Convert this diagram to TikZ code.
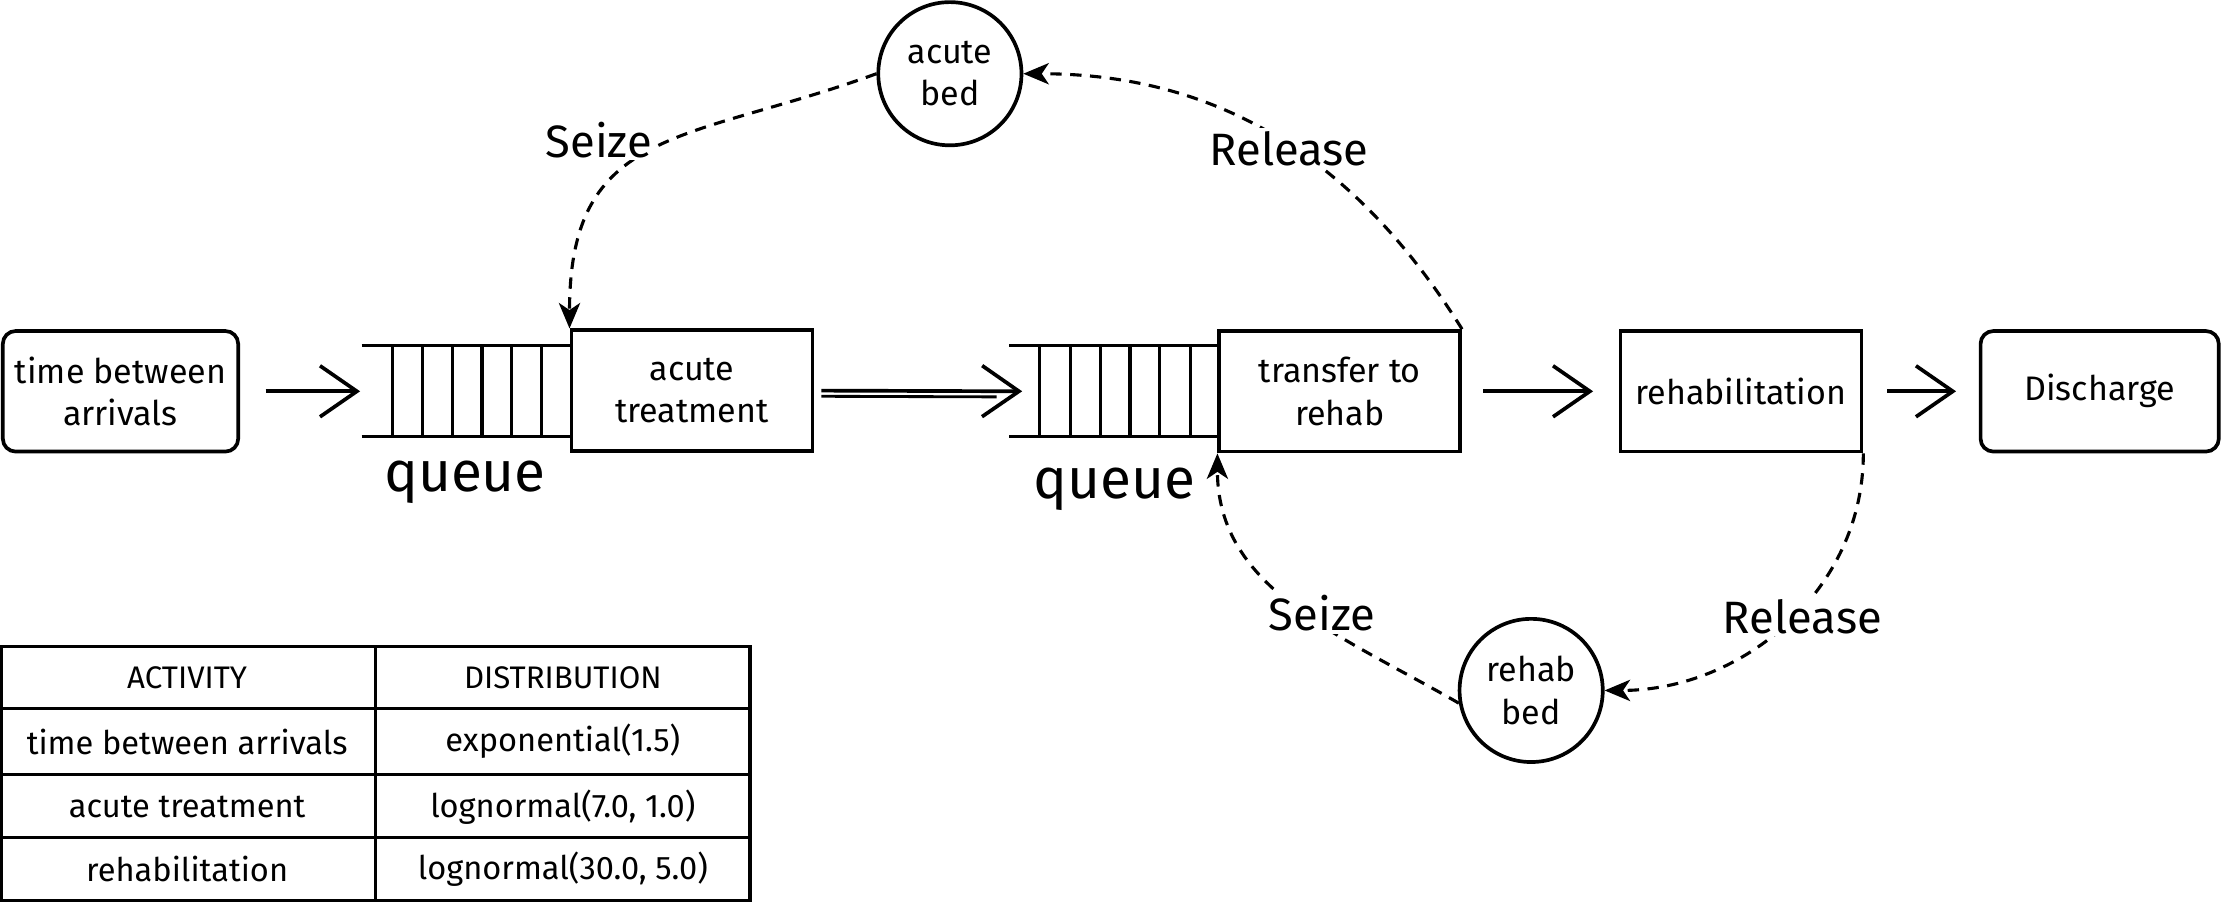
\documentclass[tikz,border=0pt]{standalone}
\usepackage{fontspec}
\setmainfont{Fira Sans}
\usetikzlibrary{arrows.meta}
\begin{document}
\begin{tikzpicture}[x=1pt,y=-1pt,
  box/.style={draw, line width=2.6pt, minimum width=170pt, minimum height=85pt, align=center,
    inner sep=0pt, font=\fontsize{24}{30}\selectfont},
  rbox/.style={box, rounded corners=9pt},
  res/.style={draw, circle, line width=2.6pt, minimum size=101pt, inner sep=0pt, align=center,
    font=\fontsize{24}{30}\selectfont},
  qline/.style={line width=2.2pt},
  flow/.style={line width=2.6pt, -{Straight Barb[length=26pt,width=36pt,line width=2.6pt]}},
  dflow/.style={line width=2.2pt, dash pattern=on 8pt off 6pt,
    -{Stealth[length=18pt,width=15pt,inset=5pt]}},
  lbl/.style={fill=white, inner sep=2pt, font=\fontsize{32}{38}\selectfont},
  qlbl/.style={font=\fontsize{40}{48}\selectfont},
  cell/.style={font=\fontsize{23}{28}\selectfont},
  head/.style={font=\fontsize{22}{26}\selectfont},
  grid/.style={line width=2.2pt}
]
\useasboundingbox (0,0) rectangle (1568,637);

% process boxes
\node[rbox, minimum width=166pt] (arr) at (85,276) {time between\\arrivals};
\node[box] (acute) at (488,275.5) {acute\\treatment};
\node[box] (transfer) at (945,276) {transfer to\\rehab};
\node[box] (rehab) at (1228,276) {rehabilitation};
\node[rbox, minimum width=168pt] (discharge) at (1481,276) {Discharge};

% resources
\node[res] (abed) at (670,52) {acute\\bed};
\node[res] (rbed) at (1080,487) {rehab\\bed};

% queue 1
\coordinate (q1w) at (254,276);
\draw[qline] (255,244) -- (402,244) (255,308) -- (402,308);
\foreach \x in {277,298,319,340,361,382}
  \draw[qline] (\x,244) -- (\x,308);
\node[qlbl] (ql1) at (328,340) {queue};

% queue 2
\coordinate (q2w) at (721,276);
\draw[qline] (712,244) -- (859,244) (712,308) -- (859,308);
\foreach \x in {733,755,776,797,818,840}
  \draw[qline] (\x,244) -- (\x,308);
\node[qlbl] (ql2) at (786,345) {queue};

% flow arrows
\draw[flow, shorten <=18pt] (arr.east) -- (q1w);
\draw[flow, shorten <=5pt] (acute.east) -- (q2w);
\draw[line width=2pt, shorten <=5pt, shorten >=18pt, transform canvas={yshift=-4pt}] (acute.east) -- (q2w);
\draw[flow, shorten <=15pt, shorten >=18pt] (transfer.east) -- (rehab.west);
\draw[flow, shorten <=17pt, shorten >=16pt] (rehab.east) -- (discharge.west);

% resource arcs
\draw[dflow] (abed.west) to[out=200,in=90,looseness=1.3]
  node[lbl, pos=0.5, xshift=-37pt, yshift=8pt] {Seize} (acute.north west);
\draw[dflow] (transfer.north east) to[out=122,in=0]
  node[lbl, pos=0.5, xshift=8pt, yshift=-7pt] {Release} (abed.east);
\draw[dflow] (rbed.190) to[out=150,in=-90]
  node[lbl, pos=0.45, xshift=10pt, yshift=1pt] {Seize} (transfer.south west);
\draw[dflow] (rehab.south east) to[out=-90,in=0]
  node[lbl, pos=0.5, xshift=12pt, yshift=5pt] {Release} (rbed.east);

% table
\draw[grid] (1.1,456) rectangle (529,635);
\draw[grid] (265,456) -- (265,635);
\draw[grid] (1.1,500) -- (529,500) (1.1,546) -- (529,546) (1.1,591) -- (529,591);
\node[head] (h1) at (132,478) {ACTIVITY};
\node[head] (h2) at (397,478) {DISTRIBUTION};
\node[cell] (c11) at (132,523) {time between arrivals};
\node[cell] (c12) at (397,523) {exponential(1.5)};
\node[cell] (c21) at (132,569) {acute treatment};
\node[cell] (c22) at (397,569) {lognormal(7.0, 1.0)};
\node[cell] (c31) at (132,613) {rehabilitation};
\node[cell] (c32) at (397,613) {lognormal(30.0, 5.0)};
\end{tikzpicture}
\end{document}
